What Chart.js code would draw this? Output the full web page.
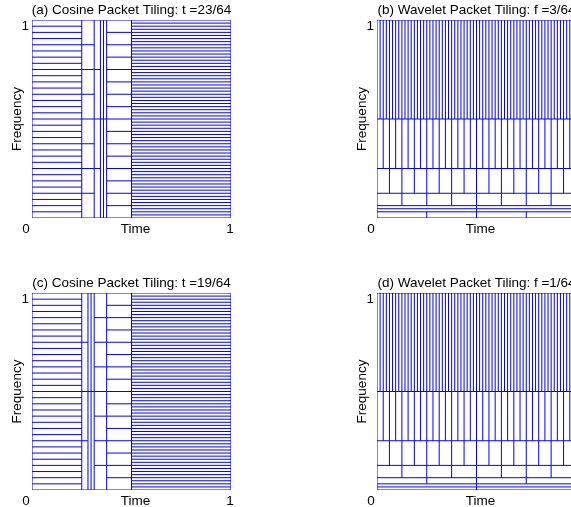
<html>
  <head>
    <style>
      body { margin: 0; overflow: hidden; background: #fff; }
      canvas { position: absolute; }
    </style>
  </head>
  <body>
    <canvas id="chartA" width="285" height="253" style="left:0px;top:0px"></canvas>
    <canvas id="chartB" width="285" height="253" style="left:345px;top:0px"></canvas>
    <canvas id="chartC" width="285" height="253" style="left:0px;top:273px"></canvas>
    <canvas id="chartD" width="285" height="253" style="left:345px;top:273px"></canvas>

    <script src="https://cdn.jsdelivr.net/npm/chart.js"></script>

    <script>
      // cosine packet tilings: time segment edges and number of frequency bins in each
      var cosTimesA = [0, 1/4, 5/16, 11/32, 23/64, 3/8, 1/2, 1];
      var cosBinsA = [32, 8, 4, 2, 2, 16, 64];
      var cosTimesC = [0, 1/4, 9/32, 19/64, 5/16, 3/8, 1/2, 1];
      var cosBinsC = [32, 4, 2, 2, 8, 16, 64];

      // wavelet packet tilings: frequency band edges and number of time boxes in each
      var wavFreqsB = [0, 1/32, 3/64, 1/16, 1/8, 1/4, 1/2, 1];
      var wavBoxesB = [4, 2, 2, 8, 16, 32, 64];
      var wavFreqsD = [0, 1/64, 1/32, 1/16, 1/8, 1/4, 1/2, 1];
      var wavBoxesD = [2, 2, 4, 8, 16, 32, 64];

      var titles = [
        "(a) Cosine Packet Tiling: t =23/64",
        "(b) Wavelet Packet Tiling: f =3/64",
        "(c) Cosine Packet Tiling: t =19/64",
        "(d) Wavelet Packet Tiling: f =1/64",
      ];

      function addSeg(pts, x0, y0, x1, y1) {
        pts.push({ x: x0, y: y0 });
        pts.push({ x: x1, y: y1 });
        pts.push({ x: x1, y: null });
      }

      // time split, each piece has its own frequency bins
      function cosineTiling(times, bins) {
        var pts = [];
        for (var i = 0; i < bins.length; i++) {
          var t0 = times[i], t1 = times[i + 1];
          addSeg(pts, t0, 0, t0, 1);
          for (var k = 0; k <= bins[i]; k++) {
            addSeg(pts, t0, k / bins[i], t1, k / bins[i]);
          }
        }
        addSeg(pts, 1, 0, 1, 1);
        return pts;
      }

      // frequency split, each band has its own time boxes
      function waveletTiling(freqs, boxes) {
        var pts = [];
        for (var i = 0; i < boxes.length; i++) {
          var f0 = freqs[i], f1 = freqs[i + 1];
          addSeg(pts, 0, f0, 1, f0);
          for (var k = 0; k <= boxes[i]; k++) {
            addSeg(pts, k / boxes[i], f0, k / boxes[i], f1);
          }
        }
        addSeg(pts, 0, 1, 1, 1);
        return pts;
      }

      var labelsPlugin = {
        id: "tilingLabels",
        afterDraw: function (chart) {
          var ctx = chart.ctx;
          var a = chart.chartArea;
          ctx.save();
          ctx.fillStyle = "#000";
          ctx.font = '13.5px "Liberation Sans", Arial, sans-serif';
          ctx.textAlign = "center";
          ctx.textBaseline = "middle";
          ctx.fillText(chart.options.plugins.tilingLabels.title, (a.left + a.right) / 2, a.top - 10);
          ctx.fillText("Time", (a.left + a.right) / 2 + 4, a.bottom + 11);
          ctx.fillText("0", a.left - 6, a.bottom + 11);
          ctx.fillText("1", a.right - 1, a.bottom + 11);
          ctx.textAlign = "right";
          ctx.textBaseline = "top";
          ctx.fillText("1", a.left - 3, a.top);
          ctx.translate(a.left - 15, (a.top + a.bottom) / 2);
          ctx.rotate(-Math.PI / 2);
          ctx.textAlign = "center";
          ctx.textBaseline = "middle";
          ctx.fillText("Frequency", 0, 0);
          ctx.restore();
        },
      };

      function showTiling(id, points, title, bottomPad) {
        var config = {
          type: "scatter",
          data: {
            datasets: [
              {
                data: points,
                showLine: true,
                spanGaps: false,
                borderColor: "#0000ff",
                borderWidth: 1,
                pointRadius: 0,
                fill: false,
              },
            ],
          },
          options: {
            responsive: false,
            animation: false,
            layout: { padding: { left: 32, top: 20, right: 54, bottom: bottomPad } },
            scales: {
              x: { type: "linear", min: 0, max: 1, display: false },
              y: { type: "linear", min: 0, max: 1, display: false },
            },
            plugins: {
              legend: { display: false },
              tooltip: { enabled: false },
              tilingLabels: { title: title },
            },
          },
          plugins: [labelsPlugin],
        };
        return new Chart(document.getElementById(id), config);
      }

      showTiling("chartA", cosineTiling(cosTimesA, cosBinsA), titles[0], 35);
      showTiling("chartB", waveletTiling(wavFreqsB, wavBoxesB), titles[1], 35);
      showTiling("chartC", cosineTiling(cosTimesC, cosBinsC), titles[2], 36);
      showTiling("chartD", waveletTiling(wavFreqsD, wavBoxesD), titles[3], 36);
    </script>
  </body>
</html>
